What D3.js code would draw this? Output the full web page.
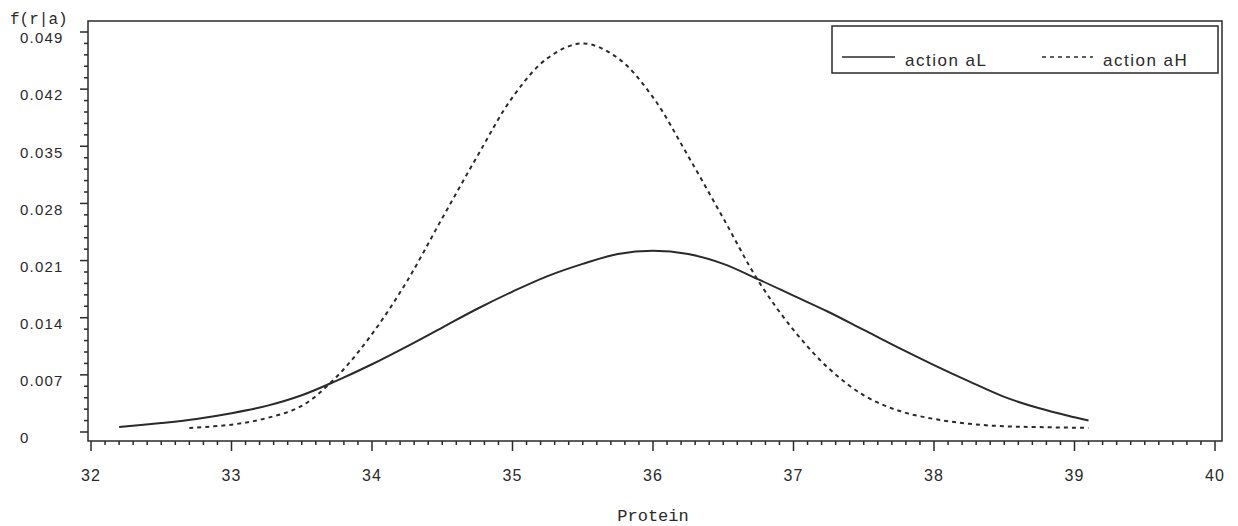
<!DOCTYPE html>
<html>
<head>
<meta charset="utf-8">
<script src="https://cdn.jsdelivr.net/npm/d3@7"></script>
<style>
  body { margin: 0; background: #fff; }
  svg { display: block; }
</style>
</head>
<body>
<svg width="1238" height="526"></svg>
<script>
//-- data --//
const proteinL = [32.2, 32.5, 32.75, 33, 33.25, 33.5, 33.75, 34, 34.25, 34.5, 34.75, 35, 35.25, 35.5, 35.75, 36, 36.25, 36.5, 36.75, 37, 37.25, 37.5, 37.75, 38, 38.25, 38.5, 38.75, 39, 39.1];
const densL = [0.0006, 0.0011, 0.0016, 0.0023, 0.0032, 0.0045, 0.0063, 0.0083, 0.0105, 0.0128, 0.0151, 0.0172, 0.0191, 0.0206, 0.0218, 0.0222, 0.0218, 0.0206, 0.0187, 0.0167, 0.0147, 0.0125, 0.0103, 0.0082, 0.0062, 0.0043, 0.0029, 0.0018, 0.0014];

const proteinH = [32.7, 33, 33.25, 33.5, 33.75, 34, 34.25, 34.5, 34.75, 35, 35.25, 35.5, 35.75, 36, 36.25, 36.5, 36.75, 37, 37.25, 37.5, 37.75, 38, 38.25, 38.5, 38.75, 39.1];
const densH = [0.0005, 0.0009, 0.0017, 0.0032, 0.0068, 0.0120, 0.0185, 0.0262, 0.0338, 0.0410, 0.0458, 0.0476, 0.0458, 0.0410, 0.0338, 0.0262, 0.0185, 0.0125, 0.0078, 0.0045, 0.0026, 0.0016, 0.0010, 0.0007, 0.0006, 0.0005];

const xTicks = [32, 33, 34, 35, 36, 37, 38, 39, 40];
const yTicks = [0, 0.007, 0.014, 0.021, 0.028, 0.035, 0.042, 0.049];
const legendLabels = ["action aL", "action aH"];

const frame = {left: 88, top: 21, right: 1222, bottom: 441};
const ink = "#2a2a2a";

const x = d3.scaleLinear().domain([32, 40]).range([91, 1215]);
const y = d3.scaleLinear().domain([0, 0.049]).range([432, 32]);

const svg = d3.select("svg");

// frame
svg.append("rect")
    .attr("x", frame.left)
    .attr("y", frame.top)
    .attr("width", frame.right - frame.left)
    .attr("height", frame.bottom - frame.top)
    .attr("fill", "none")
    .attr("stroke", ink)
    .attr("stroke-width", 1.5);

// x axis: major ticks every 1, minor every 0.1
const xAxis = svg.append("g").attr("transform", `translate(0,${frame.bottom})`);
xAxis.selectAll("line.minor")
    .data(d3.range(320, 401).map(d => d / 10))
    .join("line")
    .attr("x1", d => x(d)).attr("x2", d => x(d))
    .attr("y1", 0)
    .attr("y2", (d, i) => i % 10 === 0 ? 10 : 4)
    .attr("stroke", ink)
    .attr("stroke-width", 1.5);
xAxis.selectAll("text")
    .data(xTicks)
    .join("text")
    .attr("x", d => x(d))
    .attr("y", 40)
    .attr("text-anchor", "middle")
    .attr("font-family", "Liberation Sans, Arial, sans-serif")
    .attr("font-size", 16)
    .attr("letter-spacing", 1)
    .attr("fill", ink)
    .text(d => d);

// y axis: major every 0.007, 4 minor ticks between
const yAxis = svg.append("g").attr("transform", `translate(${frame.left},0)`);
const yMinor = d3.range(0, 36).map(i => i * 0.007 / 5);
yAxis.selectAll("line")
    .data(yMinor)
    .join("line")
    .attr("x1", (d, i) => i % 5 === 0 ? -8 : -4)
    .attr("x2", 0)
    .attr("y1", d => y(d)).attr("y2", d => y(d))
    .attr("stroke", ink)
    .attr("stroke-width", 1.5);
yAxis.selectAll("text")
    .data(yTicks)
    .join("text")
    .attr("x", 20 - frame.left)
    .attr("y", d => y(d) + 6)
    .attr("dy", "0.35em")
    .attr("font-family", "Liberation Sans, Arial, sans-serif")
    .attr("font-size", 15)
    .attr("letter-spacing", 1.2)
    .attr("fill", ink)
    .text(d => d === 0 ? "0" : d3.format(".3f")(d));

// axis titles
svg.append("text")
    .attr("x", 10).attr("y", 24)
    .attr("font-family", "Liberation Mono, Courier New, monospace")
    .attr("font-size", 16)
    .attr("fill", ink)
    .text("f(r|a)");
svg.append("text")
    .attr("x", x(36)).attr("y", 521)
    .attr("text-anchor", "middle")
    .attr("font-family", "Liberation Mono, Courier New, monospace")
    .attr("font-size", 17)
    .attr("fill", ink)
    .text("Protein");

// curves
const line = d3.line()
    .x(d => x(d[0]))
    .y(d => y(d[1]))
    .curve(d3.curveCatmullRom);

svg.append("path")
    .attr("d", line(d3.zip(proteinL, densL)))
    .attr("fill", "none")
    .attr("stroke", ink)
    .attr("stroke-width", 2);

svg.append("path")
    .attr("d", line(d3.zip(proteinH, densH)))
    .attr("fill", "none")
    .attr("stroke", ink)
    .attr("stroke-width", 2)
    .attr("stroke-dasharray", "4,4");

// legend
const legend = svg.append("g");
legend.append("rect")
    .attr("x", 832).attr("y", 26)
    .attr("width", 386).attr("height", 47)
    .attr("fill", "#fff")
    .attr("stroke", ink)
    .attr("stroke-width", 1.5);
const items = [{x1: 842, x2: 895, tx: 905, dash: null}, {x1: 1042, x2: 1093, tx: 1103, dash: "4,4"}];
items.forEach((it, i) => {
    legend.append("line")
        .attr("x1", it.x1).attr("x2", it.x2)
        .attr("y1", 57).attr("y2", 57)
        .attr("stroke", ink)
        .attr("stroke-width", 1.5)
        .attr("stroke-dasharray", it.dash);
    legend.append("text")
        .attr("x", it.tx).attr("y", 60)
        .attr("dy", "0.35em")
        .attr("font-family", "Liberation Sans, Arial, sans-serif")
        .attr("font-size", 17)
        .attr("letter-spacing", 1.5)
        .attr("fill", ink)
        .text(legendLabels[i]);
});
</script>
</body>
</html>
